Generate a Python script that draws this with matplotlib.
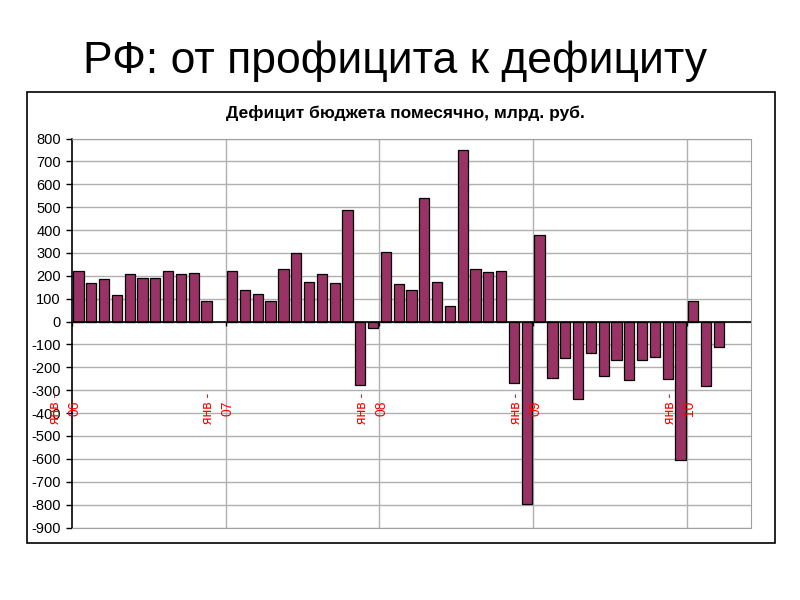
import matplotlib
matplotlib.use("Agg")
import matplotlib.pyplot as plt
import numpy as np

plt.rcParams['font.family'] = ['Liberation Sans', 'DejaVu Sans']
plt.rcParams['axes.unicode_minus'] = False

# данные: дефицит бюджета по месяцам, млрд. руб. (янв 06 - мар 10)
годы = ["06", "07", "08", "09", "10"]
y2006 = [221, 169, 186, 118, 208, 192, 192, 221, 208, 212, 92, np.nan]
y2007 = [221, 138, 121, 90, 228, 298, 173, 206, 169, 487, -279, -28]
y2008 = [304, 164, 138, 539, 173, 68, 748, 228, 218, 221, -270, -798]
y2009 = [378, -246, -158, -340, -137, -237, -167, -254, -167, -154, -250, -603]
y2010 = [90, -280, -109]

значения = np.array(y2006 + y2007 + y2008 + y2009 + y2010, dtype=float)
x = np.arange(len(значения))
n_слотов = 53

fig = plt.figure(figsize=(8, 6), dpi=100)
fig.patch.set_facecolor('white')

# заголовок слайда
fig.text(83 / 800, 1 - 73 / 600, "РФ: от профицита к дефициту", fontsize=32,
         ha='left', va='baseline', color='black')

# рамка диаграммы
рамка = plt.Rectangle((27 / 800, 1 - 543 / 600), (775 - 27) / 800, (543 - 92) / 600,
                      transform=fig.transFigure, fill=False, edgecolor='black', lw=1.2)
fig.patches.append(рамка)

fig.text(405 / 800, 1 - 113 / 600, "Дефицит бюджета помесячно, млрд. руб.",
         fontsize=12.5, fontweight='bold', ha='center', va='center')

ax = fig.add_axes([72 / 800, 1 - 527.5 / 600, (751 - 72) / 800, (527.5 - 138.5) / 600])
ax.bar(x, значения, width=0.8, color='#993366', edgecolor='black', linewidth=0.9, zorder=3)

ax.set_xlim(-0.5, n_слотов - 0.5)
ax.set_ylim(-900, 800)
ax.set_yticks(np.arange(-900, 801, 100))
ax.tick_params(axis='y', direction='out', length=4, width=1, labelsize=10.5, pad=4)
ax.set_xticks([])
ax.yaxis.grid(True, color='#b0b0b0', lw=1)
ax.set_axisbelow(True)

# границы лет
границы = np.arange(0, n_слотов, 12) - 0.5
for b in границы[1:]:
    ax.axvline(b, color='#b0b0b0', lw=1, zorder=1)
ax.vlines(границы, -18, 0, color='black', lw=1, zorder=4)
ax.axhline(0, color='black', lw=1.2, zorder=4)

for b, г in zip(границы, годы):
    ax.text(b - 0.6, -380, "янв -\n" + г, rotation=90, color='red', fontsize=10,
            ha='center', va='center', multialignment='center', linespacing=1.5)

for s in ['top', 'right', 'bottom']:
    ax.spines[s].set_color('#a0a0a0')
ax.spines['left'].set_color('black')
ax.spines['left'].set_linewidth(1.2)

fig.savefig('out.png', dpi=100, facecolor='white')
